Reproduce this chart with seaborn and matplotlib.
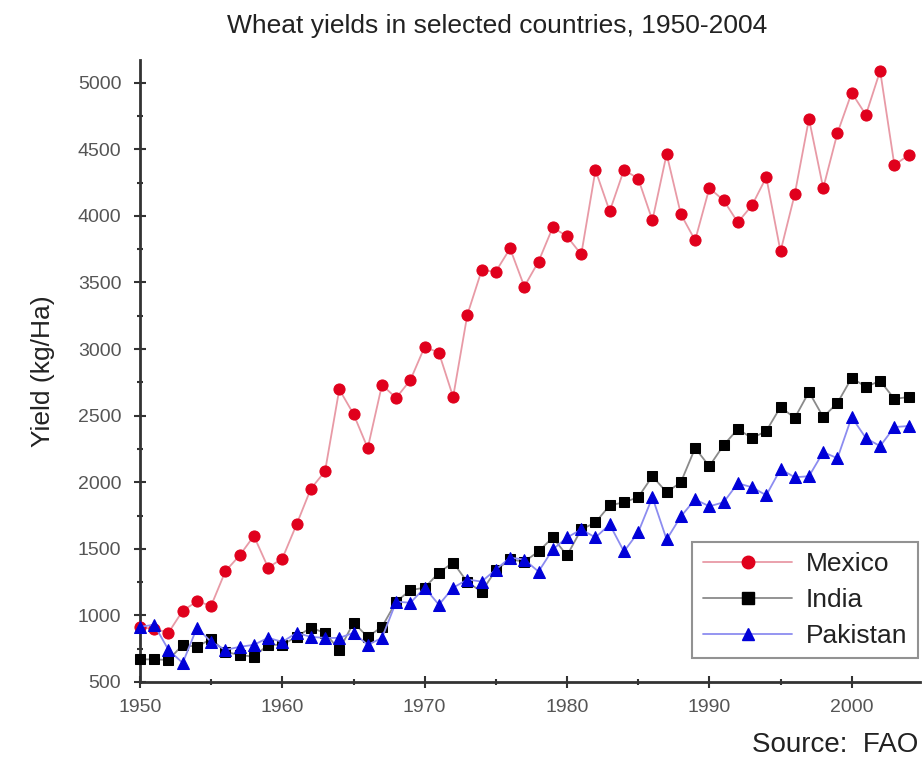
import matplotlib
matplotlib.use("Agg")
import matplotlib.pyplot as plt
from matplotlib.ticker import MultipleLocator
from matplotlib.lines import Line2D
import seaborn as sns
import pandas as pd

# Wheat yields (kg/Ha)
years = list(range(1950, 2005))

mexico = [910, 900, 870, 1035, 1105, 1073, 1332, 1450, 1597, 1359,
          1427, 1683, 1950, 2082, 2697, 2512, 2256, 2730, 2633, 2768,
          3017, 2972, 2640, 3258, 3590, 3582, 3755, 3469, 3657, 3914,
          3846, 3710, 4343, 4034, 4345, 4280, 3966, 4464, 4012, 3816,
          4208, 4117, 3951, 4079, 4290, 3733, 4162, 4728, 4208, 4622,
          4924, 4758, 5089, 4381, 4456]

india = [670, 670, 665, 779, 764, 824, 726, 703, 690, 779,
         779, 840, 907, 869, 741, 945, 839, 914, 1103, 1190,
         1208, 1321, 1397, 1250, 1178, 1340, 1420, 1404, 1480, 1585,
         1450, 1645, 1698, 1826, 1849, 1887, 2045, 1924, 2000, 2256,
         2120, 2278, 2399, 2331, 2384, 2565, 2482, 2678, 2489, 2595,
         2783, 2716, 2761, 2625, 2640]

pakistan = [914, 930, 741, 643, 907, 801, 741, 764, 779, 832,
            801, 869, 839, 831, 831, 869, 779, 831, 1103, 1095,
            1208, 1080, 1208, 1269, 1254, 1344, 1434, 1419, 1329, 1495,
            1585, 1645, 1585, 1683, 1480, 1623, 1887, 1570, 1743, 1871,
            1819, 1849, 1992, 1962, 1902, 2098, 2037, 2045, 2226, 2180,
            2489, 2331, 2271, 2414, 2422]

countries = ["Mexico", "India", "Pakistan"]

df = pd.DataFrame({
    "year": years * 3,
    "yield": mexico + india + pakistan,
    "country": [c for c in countries for _ in years],
})

# line colour, marker colour, marker, marker size
styles = {
    "Mexico": ("#e89aa6", "#e0001c", "o", 8),
    "India": ("#8a8a8a", "#000000", "s", 7.5),
    "Pakistan": ("#8c8cf0", "#0000d8", "^", 8),
}

sns.set_theme(style="white")
plt.rcParams["font.family"] = ["Liberation Sans", "DejaVu Sans"]

fig = plt.figure(figsize=(9.22, 7.62), dpi=100)
ax = fig.add_axes([140 / 922, 1 - 682 / 762, 780 / 922, 622 / 762])

handles = []
for c in countries:
    lc, mc, m, ms = styles[c]
    sub = df[df["country"] == c]
    sns.lineplot(data=sub, x="year", y="yield", ax=ax, color=lc, lw=1.3,
                 marker=m, markersize=ms, markerfacecolor=mc, markeredgecolor=mc,
                 clip_on=False, legend=False, zorder=3)
    handles.append(Line2D([], [], color=lc, lw=1.3, marker=m, markersize=ms + 1,
                          markerfacecolor=mc, markeredgecolor=mc, label=c))

ax.set_xlim(1950, 2004.8)
ax.set_ylim(500, 5170)
ax.xaxis.set_major_locator(MultipleLocator(10))
ax.xaxis.set_minor_locator(MultipleLocator(5))
ax.yaxis.set_major_locator(MultipleLocator(500))
ax.yaxis.set_minor_locator(MultipleLocator(250))

for s in ["top", "right"]:
    ax.spines[s].set_visible(False)
for s in ["left", "bottom"]:
    ax.spines[s].set_color("#333333")
    ax.spines[s].set_linewidth(2)

ax.tick_params(which="major", direction="inout", length=9, width=1.5,
               color="#333333", labelsize=14, labelcolor="#555555")
ax.tick_params(which="minor", direction="inout", length=5, width=1.5,
               color="#333333")
ax.tick_params(axis="x", which="both", bottom=True)
ax.tick_params(axis="x", which="major", pad=8)
ax.tick_params(axis="y", which="both", left=True)
ax.tick_params(axis="y", which="major", pad=9)

ax.set_xlabel("")
ax.set_ylabel("Yield (kg/Ha)", fontsize=19, color="#222222", labelpad=16)

leg = ax.legend(handles=handles, loc="lower right", bbox_to_anchor=(0.997, 0.038),
                borderaxespad=0, fontsize=19, frameon=True, fancybox=False,
                handlelength=3.4, borderpad=0.4, labelspacing=0.45,
                handletextpad=0.5)
leg.get_frame().set_edgecolor("#777777")
leg.get_frame().set_linewidth(1.5)
for t in leg.get_texts():
    t.set_color("#222222")

fig.text(497 / 922, 1 - 26 / 762, "Wheat yields in selected countries, 1950-2004",
         ha="center", va="center", fontsize=19, color="#222222")
fig.text(918 / 922, 1 - 745 / 762, "Source:  FAO", ha="right", va="center",
         fontsize=20, color="#222222")

fig.savefig("out.png", dpi=100)
